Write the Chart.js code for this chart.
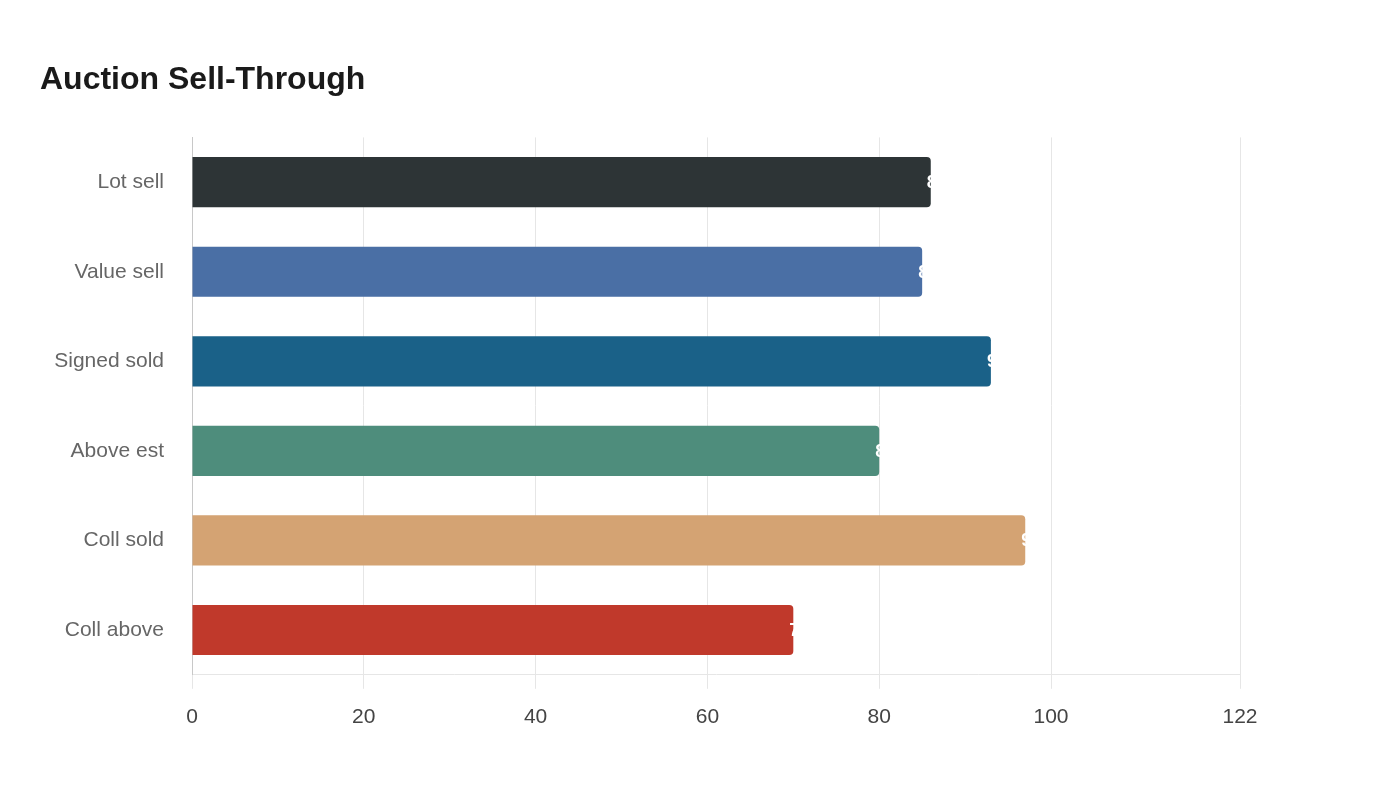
<!DOCTYPE html>
<html>
<head>
<meta charset="utf-8">
<script src="https://cdn.jsdelivr.net/npm/chart.js@4/dist/chart.umd.min.js"></script>
<style>
html,body{margin:0;padding:0;background:#fff;}
#wrap{width:1400px;height:800px;position:relative;}
</style>
</head>
<body>
<div id="wrap"><canvas id="c" width="1400" height="800"></canvas></div>
<script>
const categories = ["Lot sell", "Value sell", "Signed sold", "Above est", "Coll sold", "Coll above"];
const values = [86, 85, 93, 80, 97, 70];
const barColors = ["#2d3436", "#4a6fa5", "#1a6188", "#4e8d7c", "#d4a373", "#c0392b"];
const tickValues = [0, 20, 40, 60, 80, 100, 122];
const chartTitle = "Auction Sell-Through";

const valueLabels = {
  id: 'valueLabels',
  afterDatasetsDraw(chart) {
    const ctx = chart.ctx;
    const meta = chart.getDatasetMeta(0);
    ctx.save();
    ctx.fillStyle = '#ffffff';
    ctx.font = 'bold 18px "Liberation Sans", Arial, sans-serif';
    ctx.textAlign = 'left';
    ctx.textBaseline = 'middle';
    meta.data.forEach((bar, i) => {
      ctx.fillText(String(values[i]), bar.x - 4, bar.y + 1);
    });
    ctx.restore();
  }
};

new Chart(document.getElementById('c'), {
  type: 'bar',
  data: {
    labels: categories,
    datasets: [{
      data: values,
      backgroundColor: barColors,
      borderRadius: 4,
      borderSkipped: 'start',
      barPercentage: 0.56,
      categoryPercentage: 1.0
    }]
  },
  options: {
    indexAxis: 'y',
    responsive: false,
    animation: false,
    layout: { padding: { left: 40, right: 160, top: 41, bottom: 54 } },
    plugins: {
      legend: { display: false },
      tooltip: { enabled: false },
      title: {
        display: true,
        text: chartTitle,
        align: 'start',
        color: '#1a1a1a',
        font: { family: '"Liberation Sans", Arial, sans-serif', size: 32, weight: 'bold' },
        padding: { top: 20, bottom: 38 }
      }
    },
    scales: {
      x: {
        type: 'linear',
        min: 0,
        max: 122,
        afterBuildTicks(scale) { scale.ticks = tickValues.map(v => ({ value: v })); },
        grid: { color: '#e6e6e6', lineWidth: 1, tickLength: 14, drawTicks: true },
        border: { display: true, color: '#e6e6e6' },
        ticks: {
          color: '#444',
          padding: 16,
          font: { family: '"Liberation Sans", Arial, sans-serif', size: 21 },
          maxRotation: 0,
          autoSkip: false
        }
      },
      y: {
        grid: { display: false, drawTicks: false },
        border: { display: true, color: '#c8c8c8' },
        afterFit(scale) { scale.width = 152; },
        ticks: {
          color: '#666',
          padding: 28,
          font: { family: '"Liberation Sans", Arial, sans-serif', size: 21 }
        }
      }
    }
  },
  plugins: [valueLabels]
});
</script>
</body>
</html>
